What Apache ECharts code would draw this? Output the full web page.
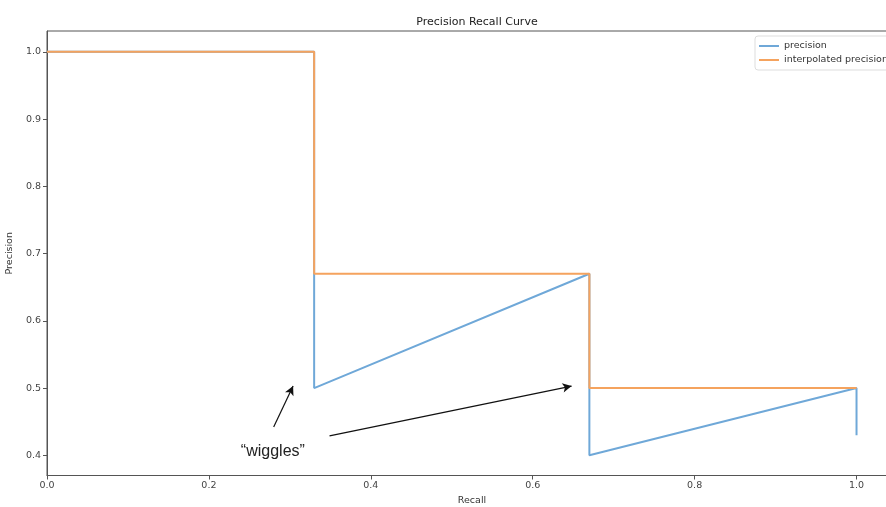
<!DOCTYPE html>
<html>
<head>
<meta charset="utf-8">
<script src="https://cdn.jsdelivr.net/npm/echarts@6/dist/echarts.min.js"></script>
<style>html,body{margin:0;padding:0;background:#fff;}#c{width:886px;height:507px;}</style>
</head>
<body>
<div id="c"></div>
<script>
const precisionRecall = [0, 0.33, 0.33, 0.67, 0.67, 1.0, 1.0];
const precisionValues = [1.0, 1.0, 0.5, 0.67, 0.4, 0.5, 0.43];
const interpRecall = [0, 0.33, 0.33, 0.67, 0.67, 1.0];
const interpValues = [1.0, 1.0, 0.67, 0.67, 0.5, 0.5];
const xTicks = [0, 0.2, 0.4, 0.6, 0.8, 1.0];
const yTicks = [0.4, 0.5, 0.6, 0.7, 0.8, 0.9, 1.0];
const annotationText = '\u201cwiggles\u201d';
const annotationPos = [0.279, 0.406];
const arrows = [
  [[0.280, 0.442], [0.304, 0.503]],
  [[0.349, 0.429], [0.648, 0.503]]
];

const font = 'DejaVu Sans';
const chart = echarts.init(document.getElementById('c'));
const zip = (a, b) => a.map((v, i) => [v, b[i]]);

chart.setOption({
  animation: false,
  textStyle: { fontFamily: font },
  title: {
    text: 'Precision Recall Curve',
    left: 472, top: 12, textAlign: 'center',
    textStyle: { fontSize: 11, fontWeight: 'normal', color: '#222', fontFamily: font }
  },
  grid: { left: 47, top: 31, width: 850, height: 444.5, show: true, borderColor: '#555', borderWidth: 1, containLabel: false, outerBoundsMode: 'none' },
  legend: {
    orient: 'vertical', left: 755, top: 36,
    data: ['precision', 'interpolated precision'],
    icon: 'rect',
    itemWidth: 20, itemHeight: 2, itemGap: 4,
    padding: [5, 6, 5, 4],
    borderColor: '#ddd', borderWidth: 1, borderRadius: 3,
    textStyle: { fontSize: 9.5, color: '#333', fontFamily: font }
  },
  xAxis: {
    type: 'value', min: 0, max: 1.05,
    name: 'Recall', nameLocation: 'middle', nameGap: 20,
    nameTextStyle: { fontSize: 9.5, color: '#333', fontFamily: font },
    splitLine: { show: false },
    axisLine: { show: true, lineStyle: { color: '#555' } },
    axisTick: { show: true, length: 4, customValues: xTicks, lineStyle: { color: '#555' } },
    axisLabel: { customValues: xTicks, formatter: v => v.toFixed(1), fontSize: 9.5, color: '#444', margin: 5, fontFamily: font }
  },
  yAxis: {
    type: 'value', min: 0.37, max: 1.031,
    name: 'Precision', nameLocation: 'middle', nameGap: 27, nameRotate: 90,
    nameTextStyle: { fontSize: 9.5, color: '#333', fontFamily: font },
    splitLine: { show: false },
    axisLine: { show: true, lineStyle: { color: '#555' } },
    axisTick: { show: true, length: 4, customValues: yTicks, lineStyle: { color: '#555' } },
    axisLabel: { customValues: yTicks, formatter: v => v.toFixed(1), fontSize: 9.5, color: '#444', margin: 6, fontFamily: font }
  },
  series: [
    {
      name: 'precision', type: 'line', symbol: 'none',
      data: zip(precisionRecall, precisionValues),
      itemStyle: { color: '#6fa8d8' },
      lineStyle: { color: '#6fa8d8', width: 2 },
      markLine: {
        silent: true, symbol: ['none', 'arrow'], symbolSize: [7, 9],
        label: { show: false },
        lineStyle: { color: '#111', width: 1.2, type: 'solid' },
        data: arrows.map(a => [{ coord: a[0] }, { coord: a[1] }])
      },
      markPoint: {
        silent: true, symbol: 'circle', symbolSize: 0,
        data: [{ coord: annotationPos, value: annotationText }],
        label: { show: true, formatter: annotationText, color: '#222', fontSize: 16, fontFamily: 'Liberation Sans', position: 'inside' }
      }
    },
    {
      name: 'interpolated precision', type: 'line', symbol: 'none',
      data: zip(interpRecall, interpValues),
      itemStyle: { color: '#f5a35e' },
      lineStyle: { color: '#f5a35e', width: 2 }
    }
  ]
});
</script>
</body>
</html>
